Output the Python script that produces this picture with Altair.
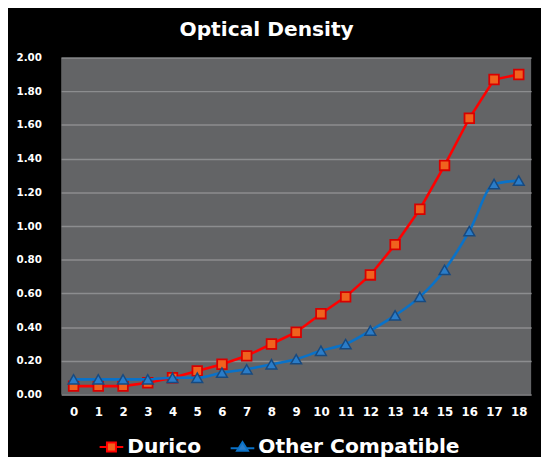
import altair as alt
import pandas as pd

hours = list(range(19))
durico = [0.05, 0.05, 0.05, 0.07, 0.10, 0.14, 0.18, 0.23, 0.30, 0.37, 0.48,
          0.58, 0.71, 0.89, 1.10, 1.36, 1.64, 1.87, 1.90]
other = [0.09, 0.09, 0.09, 0.09, 0.10, 0.10, 0.13, 0.15, 0.18, 0.21, 0.26,
         0.30, 0.38, 0.47, 0.58, 0.74, 0.97, 1.25, 1.27]
series = ["Durico", "Other Compatible"]

FONT = "DejaVu Sans"

df = pd.DataFrame({
    "x": hours * 2,
    "y": durico + other,
    "series": [series[0]] * len(hours) + [series[1]] * len(hours),
})

base = alt.Chart(df)
xenc = alt.X("x:O", scale=alt.Scale(type="point", padding=0.5),
             axis=alt.Axis(labelAngle=0, grid=False, ticks=False, domain=False,
                           labelPadding=12, labelFontSize=12, labelColor="white",
                           labelFont=FONT, labelFontWeight="bold"),
             title=None)
yenc = alt.Y("y:Q", scale=alt.Scale(domain=[0, 2]),
             axis=alt.Axis(values=[0, 0.2, 0.4, 0.6, 0.8, 1.0, 1.2, 1.4, 1.6, 1.8, 2.0],
                           format=".2f", grid=True, gridColor="#8c8d8f", gridWidth=1.5,
                           ticks=False, tickSize=0, domain=False, labelPadding=20,
                           labelFontSize=10.5, labelColor="white", labelFont=FONT,
                           labelFontWeight="bold"),
             title=None)

red_line = base.transform_filter(alt.datum.series == series[0]).mark_line(
    color="#ff0000", strokeWidth=2.6).encode(x=xenc, y=yenc)
red_pts = base.transform_filter(alt.datum.series == series[0]).mark_point(
    shape="square", size=95, filled=True, fill="#f0621e", stroke="#d80000",
    strokeWidth=1.8, opacity=1).encode(x=xenc, y=yenc)
blue_line = base.transform_filter(alt.datum.series == series[1]).mark_line(
    color="#0a72c8", strokeWidth=2.6, interpolate="monotone").encode(x=xenc, y=yenc)
blue_pts = base.transform_filter(alt.datum.series == series[1]).mark_point(
    shape="triangle-up", size=120, filled=True, fill="#2a7cc8", stroke="#174a80",
    strokeWidth=1.5, opacity=1).encode(x=xenc, y=yenc)

sq_path = "M-1,0L-0.38,0M0.38,0L1,0M-0.38,-0.38L0.38,-0.38L0.38,0.38L-0.38,0.38Z"
tri_path = "M-1,0.1L-0.3,0.1M0.3,0.1L1,0.1M0,-0.42L0.46,0.32L-0.46,0.32Z"

legend = alt.Legend(title=None, orient="none", legendX=38, legendY=382,
                    direction="horizontal", symbolSize=576, symbolStrokeWidth=2,
                    labelFont=FONT, labelFontWeight="bold", labelFontSize=20.5,
                    labelColor="white", labelOffset=3, columnPadding=26,
                    labelLimit=400, symbolOpacity=1)

legend_layer = base.transform_filter("false").mark_point(opacity=1).encode(
    x=xenc, y=yenc,
    shape=alt.Shape("series:N", scale=alt.Scale(domain=series, range=[sq_path, tri_path]),
                    legend=legend),
    stroke=alt.Stroke("series:N", scale=alt.Scale(domain=series, range=["#ff0000", "#0a72c8"]),
                      legend=legend),
    fill=alt.Fill("series:N", scale=alt.Scale(domain=series, range=["#f0621e", "#2a7cc8"]),
                  legend=legend),
)

chart = alt.layer(red_line, red_pts, blue_line, blue_pts, legend_layer).properties(
    width=477, height=342,
    title=alt.TitleParams("Optical Density", font=FONT, fontSize=20.5, fontWeight="bold",
                          color="white", anchor="middle", dx=-30, offset=12),
    autosize=alt.AutoSizeParams(type="none"),
    padding={"left": 54, "top": 47, "right": 10, "bottom": 60},
).configure(background="black").configure_view(fill="#636466", stroke=None)

chart.save("out.html", embed_options={"renderer": "svg", "actions": False})
